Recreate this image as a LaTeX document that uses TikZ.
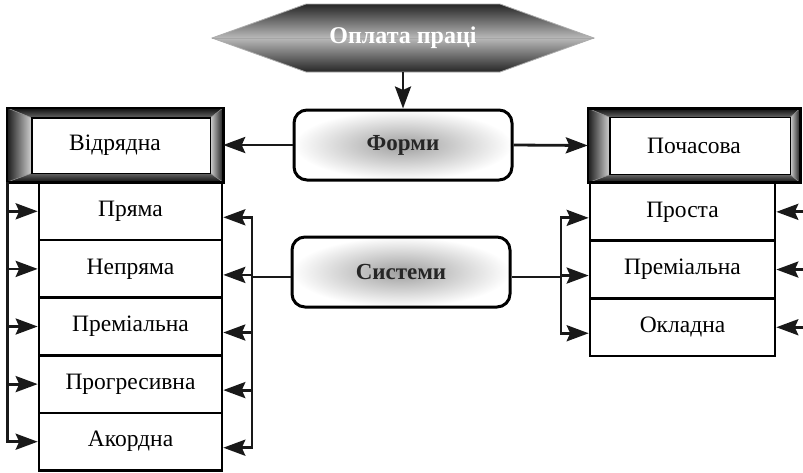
\documentclass[tikz,border=0pt]{standalone}
\usepackage{fontspec}
\setmainfont{Liberation Serif}
\usetikzlibrary{arrows.meta,calc}
\newcommand{\bevelframe}[5]{%
  \coordinate (#1-A) at (#1.north west);
  \coordinate (#1-B) at (#1.north east);
  \coordinate (#1-C) at (#1.south east);
  \coordinate (#1-D) at (#1.south west);
  \coordinate (#1-a) at ($(#1.north west)+(#2,#4)$);
  \coordinate (#1-b) at ($(#1.north east)+(-#3,#4)$);
  \coordinate (#1-c) at ($(#1.south east)+(-#3,-#5)$);
  \coordinate (#1-d) at ($(#1.south west)+(#2,-#5)$);
  \shade[top color=black!95, bottom color=black!60] (#1-A)--(#1-B)--(#1-b)--(#1-a)--cycle;
  \shade[top color=black!60, bottom color=black!95] (#1-D)--(#1-C)--(#1-c)--(#1-d)--cycle;
  \shade[left color=black!90, right color=gray!35] (#1-A)--(#1-a)--(#1-d)--(#1-D)--cycle;
  \shade[left color=gray!35, right color=black!90] (#1-B)--(#1-b)--(#1-c)--(#1-C)--cycle;
  \draw[black!45, line width=0.5pt] (#1-A)--(#1-a) (#1-B)--(#1-b) (#1-C)--(#1-c) (#1-D)--(#1-d);
  \draw[line width=1.4pt, fill=white] (#1-a) rectangle (#1-c);
  \draw[line width=2.6pt] (#1-A) rectangle (#1-C);
}
\begin{document}
\begin{tikzpicture}[x=1pt,y=-1pt,
  conn/.style={line width=2.8pt, black!90},
  arr/.style={conn, -{Stealth[length=22pt,width=16pt,inset=3.5pt]}},
  txt/.style={font=\fontsize{23.5}{27}\selectfont},
  listbox/.style={draw, line width=2.6pt, minimum height=57.6pt, inner sep=0pt, txt},
  roundbox/.style={draw, line width=3pt, rounded corners=13pt, inner color=gray!75, outer color=white,
    minimum width=218pt, minimum height=70pt, font=\bfseries\fontsize{23}{26}\selectfont, text=black!85},
  framebox/.style={minimum height=74pt, inner sep=0pt}
]
\useasboundingbox (0,0) rectangle (803,472);
\coordinate (edge) at (803,0);

% top hexagon
\shade[top color=black!85, bottom color=black!85, middle color=gray!55, draw=gray!65, line width=0.8pt]
  (212,38) -- (306,4) -- (500,4) -- (594,38) -- (500,72) -- (306,72) -- cycle;
\draw[gray!70, line width=0.8pt] (212,38) -- (594,38);
\node[font=\bfseries\fontsize{24}{28}\selectfont, text=white] (pay) at (403,38) {Оплата праці};
\coordinate (paybot) at (403,72);

% middle rounded boxes
\node[roundbox] (forms) at (403,145) {Форми};
\node[roundbox] (sys) at (401,272) {Системи};

% bevelled frames
\node[framebox, minimum width=216pt] (vidr) at (115,145) {};
\bevelframe{vidr}{25}{13}{10}{9}
\node[txt] (vidrt) at (vidr.center) {Відрядна};

\node[framebox, minimum width=212pt] (poch) at (694,145.5) {};
\bevelframe{poch}{22}{10}{9}{8}
\node[txt] (pocht) at (poch.center) {Почасова};

% left list
\foreach \t [count=\i] in {Пряма,Непряма,Преміальна,Прогресивна,Акордна}
  \node[listbox, minimum width=183pt] (l\i) at (130.5,{182.5+57.6*(\i-0.5)}) {\t};

% right list
\foreach \t [count=\i] in {Проста,Преміальна,Окладна}
  \node[listbox, minimum width=185pt] (r\i) at (682.5,{183+57.7*(\i-0.5)}) {\t};

% connectors
\draw[arr] (paybot) -- (forms.north);
\draw[arr] (forms.west) -- (vidr.east);
\draw[arr] (forms.east) -- (poch.west);

\foreach \i in {1,...,5}
  \draw[arr] ([xshift=1pt]vidr.south west) |- (l\i.west);

\coordinate (lbus) at (252,277);
\draw[conn] ([yshift=-5pt]sys.west) -- (lbus);
\foreach \i in {1,...,5}
  \draw[arr] (lbus) |- ([yshift=-6pt]l\i.east);

\coordinate (rbus) at (561,277);
\draw[conn] ([yshift=-5pt]sys.east) -- (rbus);
\foreach \i in {1,2,3}
  \draw[arr] (rbus) |- ([yshift=-6pt]r\i.west);

\foreach \i in {1,2,3}{
  \coordinate (re\i) at (r\i.east -| edge);
  \draw[arr] (re\i) -- (r\i.east);
}
\end{tikzpicture}
\end{document}
